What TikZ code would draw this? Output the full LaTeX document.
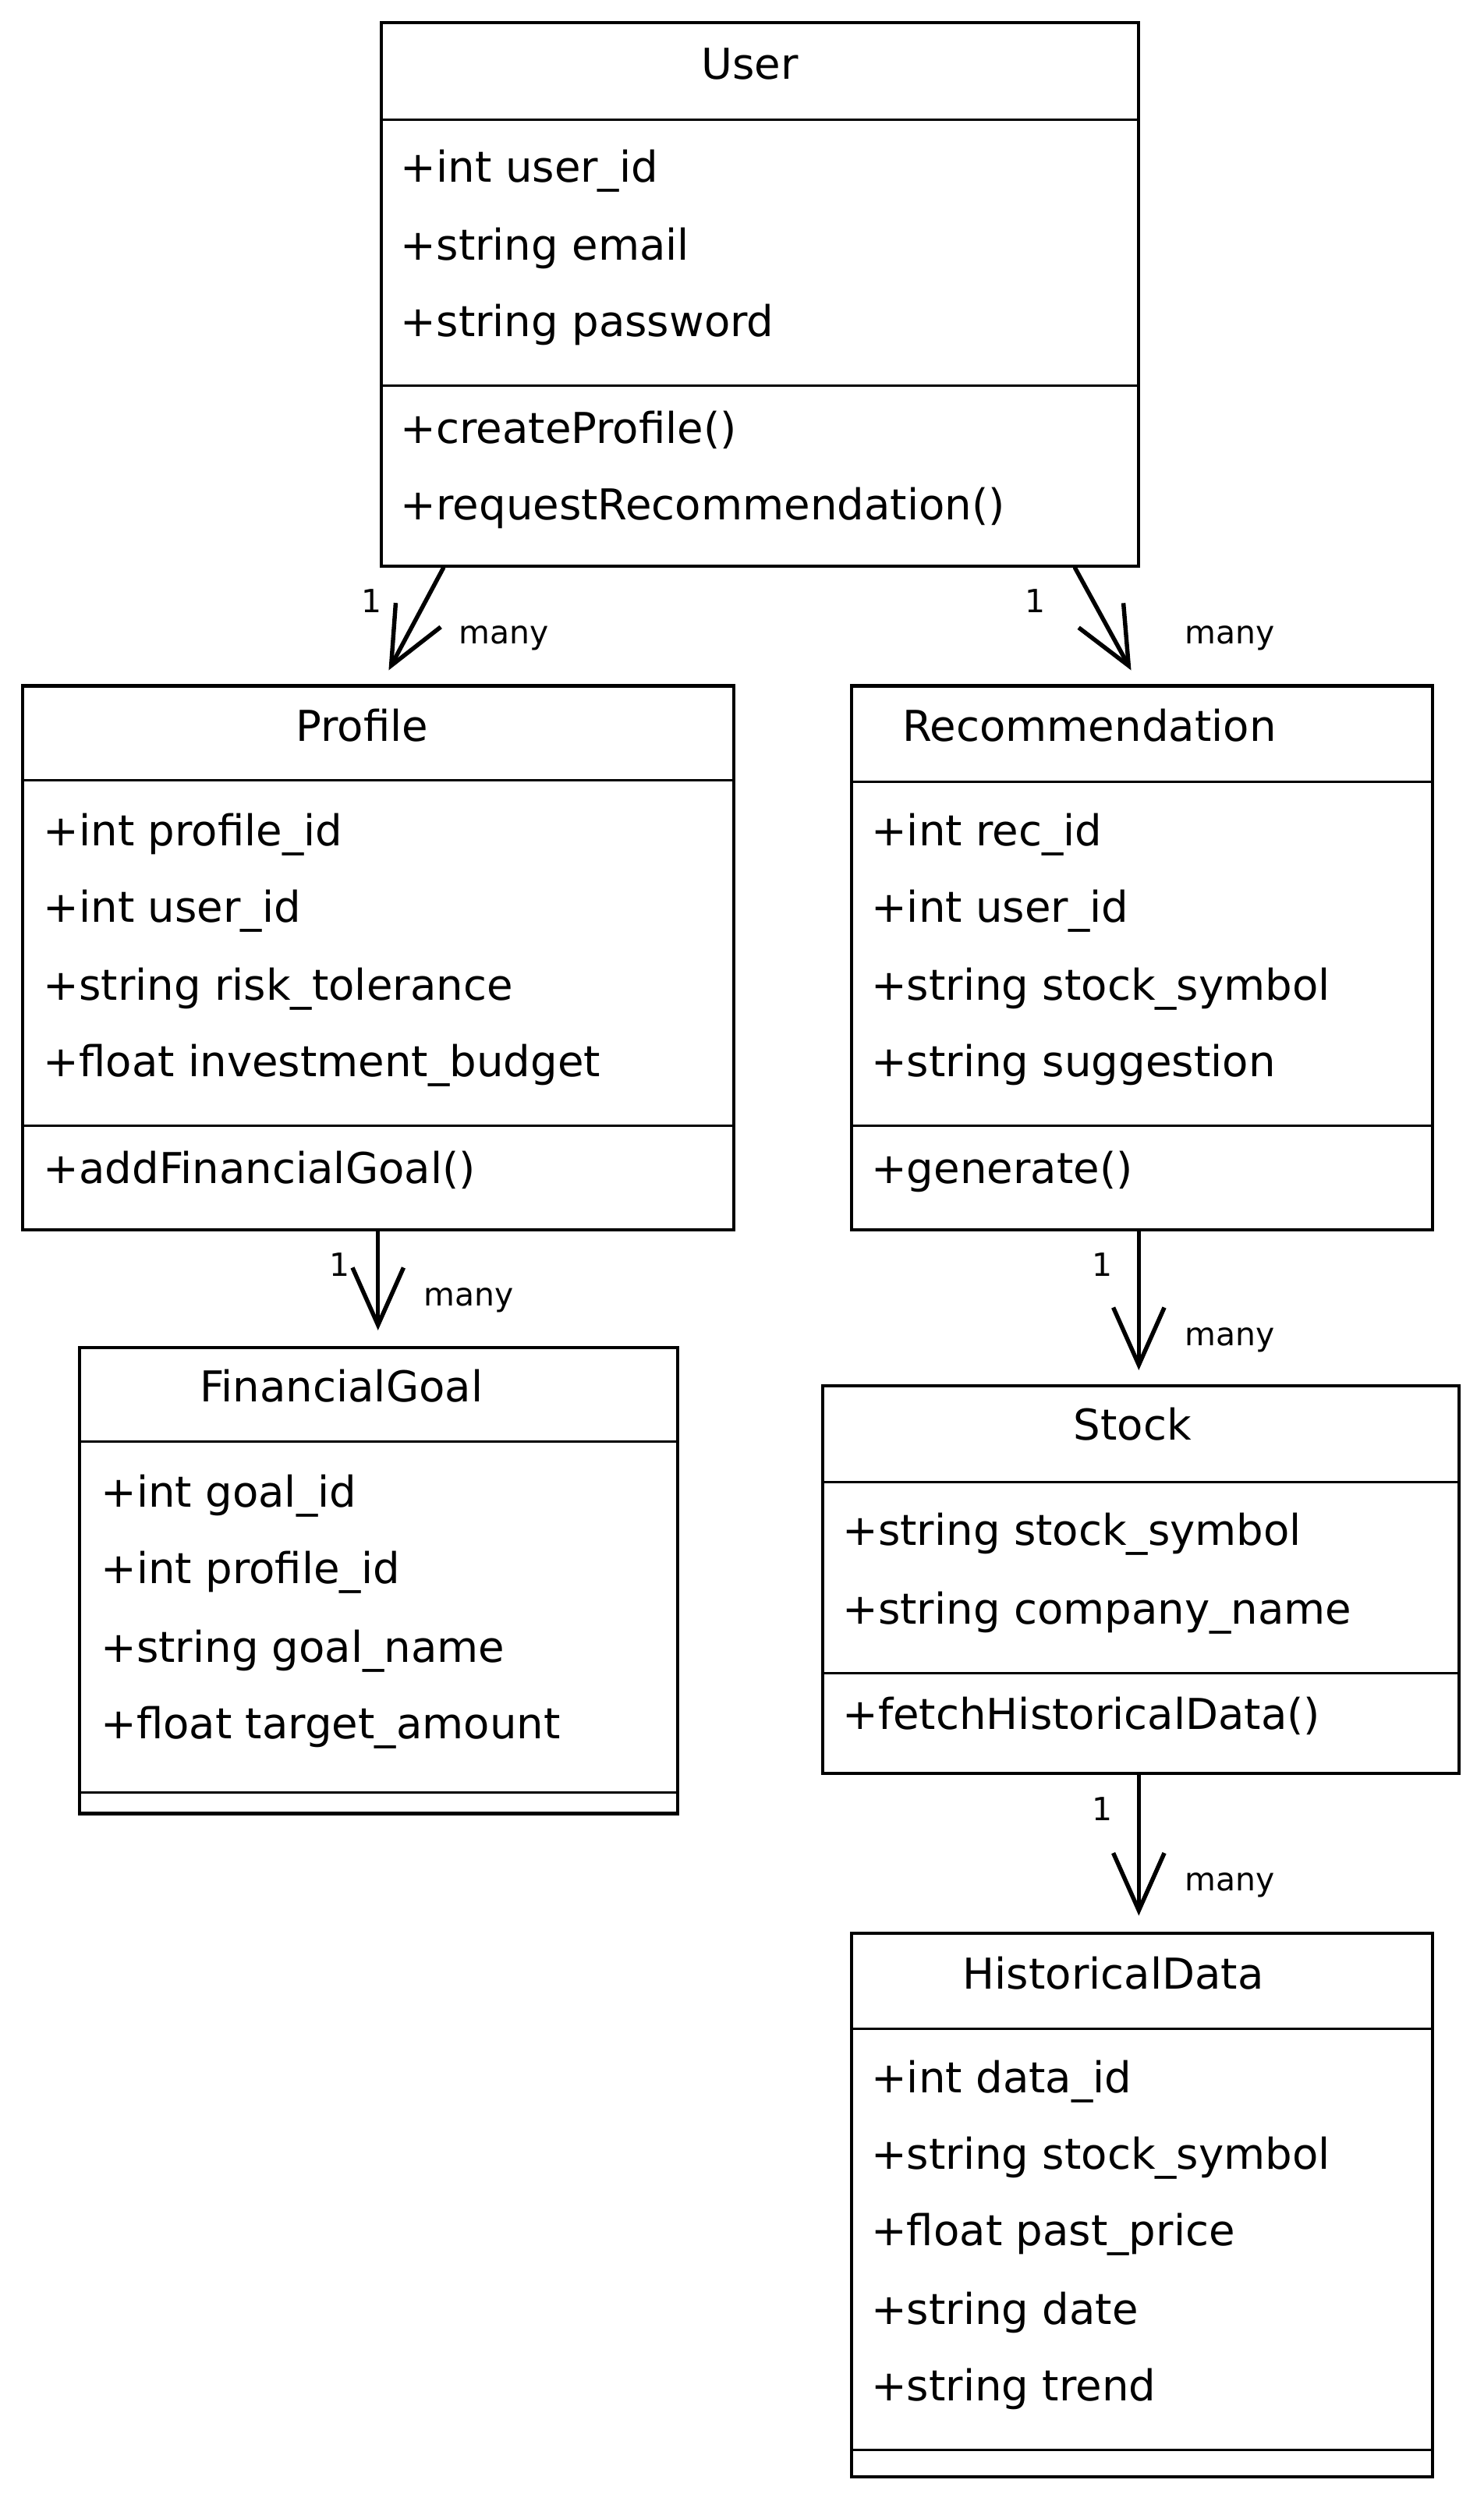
\documentclass[tikz,border=0pt]{standalone}
\usepackage{fontspec}
\setmainfont{DejaVu Sans}
\usepackage{tikz}
\usetikzlibrary{arrows.meta}

\tikzset{
  classbox/.style={draw, line width=1.5pt, inner sep=0pt},
  divider/.style={line width=1.1pt},
  classname/.style={inner sep=0.75pt, font=\fontsize{20}{24}\selectfont},
  member/.style={anchor=west, inner sep=0.75pt, text height=18pt, text depth=3pt, font=\fontsize{20}{24}\selectfont},
  mult/.style={inner sep=0.75pt, font=\fontsize{15}{18}\selectfont},
  assoc/.style={line width=2pt, line cap=round, -{Straight Barb[length=27pt,width=24pt,line width=2pt]}}
}

\begin{document}
\begin{tikzpicture}[x=0.75pt,y=0.75pt,yscale=-1,xscale=1]
\useasboundingbox (0,0) rectangle (930,1568);

%Shape: Rectangle [id:user]
\node (user) [classbox, minimum width=356.25pt, minimum height=255.75pt] at (476.5,184.5) {};
\draw [divider] (user.west |- 0,75) -- (user.east |- 0,75);
\draw [divider] (user.west |- 0,242) -- (user.east |- 0,242);
% Text Node
\node (user-t) [classname] at (470,40) {User};
\node (user-a1) [member] at (250,104) {+int user\_id};
\node (user-a2) [member] at (250,153) {+string email};
\node (user-a3) [member] at (250,201) {+string password};
\node (user-m1) [member] at (250,268) {+createProfile()};
\node (user-m2) [member] at (250,316) {+requestRecommendation()};

%Shape: Rectangle [id:profile]
\node (profile) [classbox, minimum width=334.5pt, minimum height=255.75pt] at (237,600.5) {};
\draw [divider] (profile.west |- 0,489) -- (profile.east |- 0,489);
\draw [divider] (profile.west |- 0,706) -- (profile.east |- 0,706);
% Text Node
\node (profile-t) [classname] at (227,455) {Profile};
\node (profile-a1) [member] at (26,520) {+int profile\_id};
\node (profile-a2) [member] at (26,568) {+int user\_id};
\node (profile-a3) [member] at (26,617) {+string risk\_tolerance};
\node (profile-a4) [member] at (26,665) {+float investment\_budget};
\node (profile-m1) [member] at (26,732) {+addFinancialGoal()};

%Shape: Rectangle [id:recommendation]
\node (rec) [classbox, minimum width=273pt, minimum height=255.75pt] at (716,600.5) {};
\draw [divider] (rec.west |- 0,490) -- (rec.east |- 0,490);
\draw [divider] (rec.west |- 0,706) -- (rec.east |- 0,706);
% Text Node
\node (rec-t) [classname] at (683,455) {Recommendation};
\node (rec-a1) [member] at (545,520) {+int rec\_id};
\node (rec-a2) [member] at (545,568) {+int user\_id};
\node (rec-a3) [member] at (545,617) {+string stock\_symbol};
\node (rec-a4) [member] at (545,665) {+string suggestion};
\node (rec-m1) [member] at (545,732) {+generate()};

%Shape: Rectangle [id:financialgoal]
\node (goal) [classbox, minimum width=281.25pt, minimum height=219pt] at (237.5,991) {};
\draw [divider] (goal.west |- 0,904) -- (goal.east |- 0,904);
\draw [divider] (goal.west |- 0,1124) -- (goal.east |- 0,1124);
% Text Node
\node (goal-t) [classname] at (214,869) {FinancialGoal};
\node (goal-a1) [member] at (62,935) {+int goal\_id};
\node (goal-a2) [member] at (62,983) {+int profile\_id};
\node (goal-a3) [member] at (62,1032) {+string goal\_name};
\node (goal-a4) [member] at (62,1080) {+float target\_amount};

%Shape: Rectangle [id:stock]
\node (stock) [classbox, minimum width=299.25pt, minimum height=182.25pt] at (715.5,990.5) {};
\draw [divider] (stock.west |- 0,929) -- (stock.east |- 0,929);
\draw [divider] (stock.west |- 0,1049) -- (stock.east |- 0,1049);
% Text Node
\node (stock-t) [classname] at (710,893) {Stock};
\node (stock-a1) [member] at (527,959) {+string stock\_symbol};
\node (stock-a2) [member] at (527,1008) {+string company\_name};
\node (stock-m1) [member] at (527,1074) {+fetchHistoricalData()};

%Shape: Rectangle [id:historicaldata]
\node (hist) [classbox, minimum width=273pt, minimum height=255.75pt] at (716,1382.5) {};
\draw [divider] (hist.west |- 0,1272) -- (hist.east |- 0,1272);
\draw [divider] (hist.west |- 0,1536) -- (hist.east |- 0,1536);
% Text Node
\node (hist-t) [classname] at (698,1237) {HistoricalData};
\node (hist-a1) [member] at (545,1302) {+int data\_id};
\node (hist-a2) [member] at (545,1350) {+string stock\_symbol};
\node (hist-a3) [member] at (545,1398) {+float past\_price};
\node (hist-a4) [member] at (545,1447) {+string date};
\node (hist-a5) [member] at (545,1495) {+string trend};

%Straight Lines [id:associations]
\draw [assoc, shorten >=7.5pt] (user.south -| 278,0) -- (profile.north -| 239,0);
\draw [assoc, shorten >=7.5pt] (user.south -| 674,0) -- (rec.north -| 714,0);
\draw [assoc, shorten >=7.5pt] (profile.south -| 237,0) -- (goal.north -| 237,0);
\draw [assoc, shorten >=6.75pt] (rec.south -| 714,0) -- (stock.north -| 714,0);
\draw [assoc, shorten >=7.5pt] (stock.south -| 714,0) -- (hist.north -| 714,0);

% Text Node
\node (m1a) [mult] at (233,377) {1};
\node (m1b) [mult] at (316,400) {many};
\node (m2a) [mult] at (649,377) {1};
\node (m2b) [mult] at (771,400) {many};
\node (m3a) [mult] at (213,793) {1};
\node (m3b) [mult] at (294,815) {many};
\node (m4a) [mult] at (691,793) {1};
\node (m4b) [mult] at (771,840) {many};
\node (m5a) [mult] at (691,1134) {1};
\node (m5b) [mult] at (771,1182) {many};

\end{tikzpicture}
\end{document}
